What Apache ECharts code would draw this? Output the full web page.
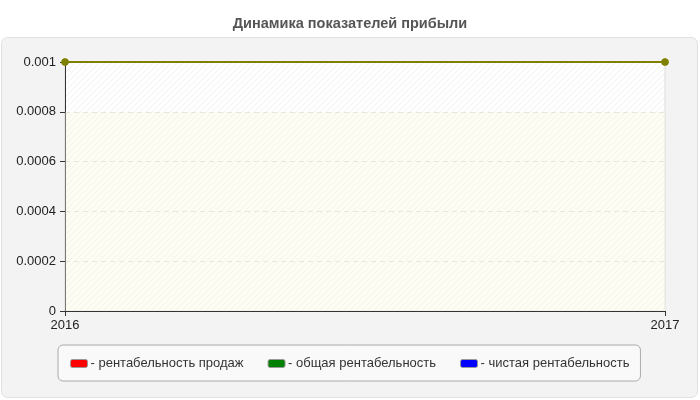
<!DOCTYPE html>
<html>
<head>
<meta charset="utf-8">
<script src="https://cdn.jsdelivr.net/npm/echarts@6/dist/echarts.min.js"></script>
<style>
    html, body { margin: 0; padding: 0; background: #fff; }
    #chart { width: 700px; height: 400px; }
</style>
</head>
<body>
<div id="chart"></div>
<script>
(function () {
    "use strict";

    var years = ['2016', '2017'];
    var seriesNames = ['рентабельность продаж', 'общая рентабельность', 'чистая рентабельность'];
    var legendColors = ['#ff0000', '#008000', '#0000ff'];
    var salesProfit = [0.001, 0.001];
    var totalProfit = [0.001, 0.001];
    var netProfit = [0.001, 0.001];
    var yTicks = [0, 0.0002, 0.0004, 0.0006, 0.0008, 0.001];

    var font = 'Arial, Liberation Sans, sans-serif';

    // штриховка фона области графика
    var hatch = document.createElement('canvas');
    hatch.width = 6;
    hatch.height = 6;
    var ctx = hatch.getContext('2d');
    ctx.fillStyle = '#ffffff';
    ctx.fillRect(0, 0, 6, 6);
    ctx.strokeStyle = '#f0f0f0';
    ctx.lineWidth = 1;
    ctx.beginPath();
    ctx.moveTo(0, 6);
    ctx.lineTo(6, 0);
    ctx.moveTo(-1, 1);
    ctx.lineTo(1, -1);
    ctx.moveTo(5, 7);
    ctx.lineTo(7, 5);
    ctx.stroke();

    var myChart = echarts.init(document.getElementById('chart'));

    var lineColor = '#808000';
    var allData = [salesProfit, totalProfit, netProfit];

    var option = {
        animation: false,
        title: {
            text: 'Динамика показателей прибыли',
            left: 'center',
            top: 11,
            textStyle: {
                fontFamily: font,
                fontSize: 14.5,
                fontWeight: 'bold',
                color: '#555555'
            }
        },
        graphic: [{
            type: 'rect',
            z: -10,
            shape: { x: 1.5, y: 37.5, width: 696, height: 360, r: 6 },
            style: { fill: '#f3f3f3', stroke: '#e0e0e0', lineWidth: 1 }
        }],
        legend: {
            data: seriesNames.map(function (name, i) {
                return {
                    name: name,
                    icon: 'roundRect',
                    itemStyle: { color: legendColors[i], borderColor: '#999', borderWidth: 1 }
                };
            }),
            formatter: '- {name}',
            left: 58,
            top: 345,
            itemWidth: 17,
            itemHeight: 8,
            itemGap: 24,
            padding: [12, 11, 11, 12],
            backgroundColor: '#f9f9f9',
            borderColor: '#aaaaaa',
            borderWidth: 1,
            borderRadius: 5,
            textStyle: {
                fontFamily: font,
                fontSize: 13,
                color: '#333333',
                padding: [0, 0, 0, -2]
            }
        },
        grid: {
            left: 65,
            right: 35,
            top: 62,
            bottom: 89,
            show: true,
            backgroundColor: { image: hatch, repeat: 'repeat' },
            borderColor: '#dddddd',
            borderWidth: 1
        },
        xAxis: {
            type: 'category',
            data: years,
            boundaryGap: false,
            axisLine: { lineStyle: { color: '#333333', width: 1 } },
            axisTick: { show: true, length: 5, lineStyle: { color: '#333333' } },
            axisLabel: {
                fontFamily: font,
                fontSize: 13,
                color: '#222222',
                margin: 8
            },
            splitLine: { show: false }
        },
        yAxis: {
            type: 'value',
            min: yTicks[0],
            max: yTicks[yTicks.length - 1],
            interval: yTicks[1] - yTicks[0],
            axisLine: { show: true, lineStyle: { color: '#333333', width: 1 } },
            axisTick: { show: true, length: 5, lineStyle: { color: '#333333' } },
            axisLabel: {
                fontFamily: font,
                fontSize: 13,
                color: '#222222',
                margin: 9,
                formatter: function (v) {
                    return String(parseFloat(v.toFixed(4)));
                }
            },
            splitLine: { show: true, lineStyle: { color: '#dddddd', type: [5, 4] } }
        },
        series: seriesNames.map(function (name, i) {
            var s = {
                name: name,
                type: 'line',
                data: allData[i],
                symbol: 'circle',
                symbolSize: 7,
                itemStyle: { color: lineColor },
                lineStyle: { color: lineColor, width: 2 }
            };
            if (i === 0) {
                s.markArea = {
                    silent: true,
                    itemStyle: { color: 'rgba(250, 250, 220, 0.35)' },
                    data: [[{ yAxis: yTicks[0] }, { yAxis: yTicks[4] }]]
                };
            }
            return s;
        })
    };

    myChart.setOption(option, true);
})();
</script>
</body>
</html>
